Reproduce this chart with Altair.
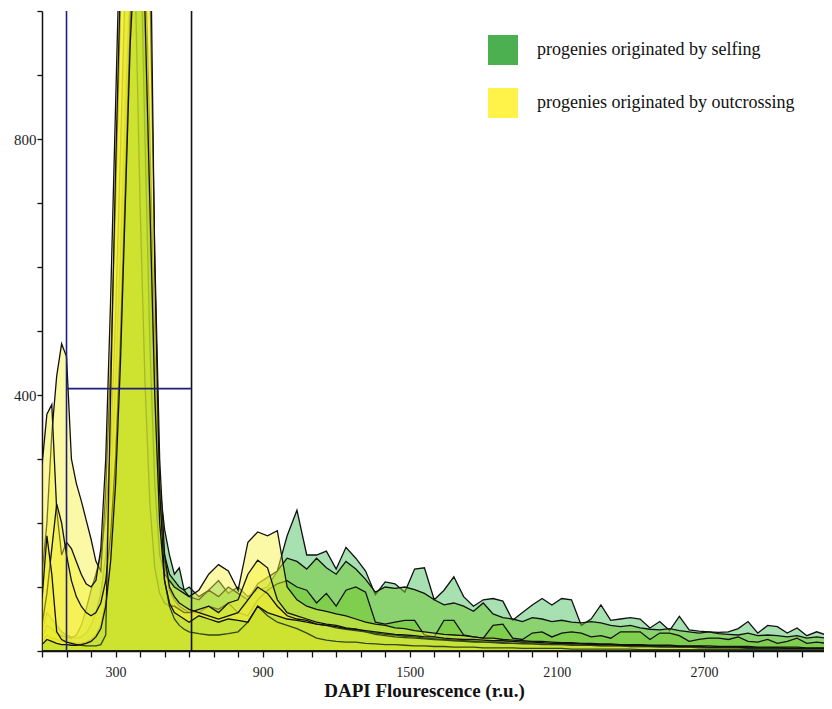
import altair as alt
import pandas as pd

# ---- bins (DAPI fluorescence channel, r.u.) ----
bins_head = list(range(0, 601, 20))      # 0..600 step 20  (31 bins)
bins_tail = list(range(640, 3201, 40))   # 640..3200 step 40 (65 bins)
bins = bins_head + bins_tail

# ---- progenies originated by selfing (green) ----
G1_head = [30, 60, 50, 40, 30, 25, 22, 20, 22, 28, 40, 60, 90, 150, 260, 420, 620, 850, 1050, 1150,
           1100, 900, 650, 420, 260, 190, 150, 120, 130, 95, 100]
G1_tail = [85, 95, 110, 90, 100, 85, 95, 100, 125, 180, 220, 150, 150, 156, 128, 162, 145, 125, 88, 108,
           105, 92, 128, 130, 80, 95, 116, 85, 70, 80, 82, 78, 48, 60, 72, 82, 72, 82, 80, 40,
           50, 72, 48, 50, 52, 50, 36, 46, 32, 54, 33, 31, 30, 29, 30, 35, 46, 28, 40, 38,
           28, 36, 24, 30, 25]
G2_head = [20, 40, 35, 28, 24, 22, 20, 25, 40, 65, 95, 120, 150, 210, 320, 520, 780, 1050, 1250, 1300,
           1200, 950, 650, 400, 230, 150, 120, 110, 100, 95, 85]
G2_tail = [80, 95, 85, 100, 90, 80, 105, 115, 125, 145, 140, 128, 145, 130, 120, 140, 128, 112, 92, 100,
           98, 100, 96, 90, 80, 72, 75, 70, 62, 75, 58, 52, 50, 46, 52, 50, 46, 48, 45, 44,
           46, 44, 40, 38, 40, 36, 34, 33, 35, 32, 30, 28, 30, 27, 26, 25, 28, 24, 25, 24,
           22, 24, 20, 22, 20]
G3_head = [15, 25, 20, 18, 15, 14, 13, 12, 12, 14, 18, 25, 40, 80, 160, 300, 500, 750, 1000, 1200,
           1250, 1100, 800, 480, 250, 140, 95, 80, 70, 65, 60]
G3_tail = [60, 70, 65, 75, 60, 55, 80, 95, 105, 110, 100, 95, 75, 90, 70, 95, 100, 92, 45, 42,
           45, 48, 48, 25, 22, 48, 48, 25, 22, 20, 40, 42, 20, 18, 28, 30, 22, 28, 30, 28,
           22, 24, 20, 30, 30, 30, 18, 28, 28, 24, 15, 18, 20, 20, 18, 22, 15, 14, 18, 12,
           15, 20, 12, 14, 12]
G4_head = [10, 18, 15, 12, 10, 10, 9, 9, 10, 12, 15, 22, 35, 70, 140, 260, 450, 700, 950, 1100,
           1150, 1000, 700, 400, 200, 110, 75, 60, 55, 50, 45]
G4_tail = [55, 50, 45, 50, 48, 45, 70, 60, 55, 50, 48, 45, 42, 40, 38, 35, 34, 32, 30, 28,
           26, 25, 24, 22, 22, 20, 19, 18, 18, 17, 16, 16, 15, 14, 14, 13, 12, 12, 12, 11,
           10, 10, 10, 9, 9, 9, 8, 8, 8, 7, 7, 7, 6, 6, 6, 6, 5, 5, 5, 5,
           4, 4, 4, 4, 4]

# ---- progenies originated by outcrossing (yellow) ----
Y1_head = [120, 200, 340, 430, 480, 460, 300, 262, 235, 205, 175, 140, 125, 250, 450, 700, 1000, 1350, 1500, 1400,
           1150, 800, 480, 260, 150, 120, 110, 100, 95, 90, 85]
Y1_tail = [95, 120, 135, 125, 95, 170, 186, 180, 188, 100, 80, 70, 65, 62, 58, 55, 50, 45, 42, 40,
           36, 35, 32, 30, 28, 26, 25, 24, 22, 20, 20, 18, 17, 16, 15, 15, 14, 13, 13, 12,
           12, 11, 11, 10, 10, 10, 9, 9, 9, 8, 8, 8, 8, 7, 7, 7, 7, 6, 6, 6,
           6, 6, 5, 5, 5]
Y2_head = [290, 370, 385, 220, 150, 170, 160, 140, 120, 105, 100, 110, 160, 300, 550, 850, 1150, 1350, 1300, 1050,
           700, 420, 230, 130, 90, 75, 70, 70, 65, 60, 60]
Y2_tail = [65, 70, 60, 75, 80, 120, 142, 130, 80, 60, 55, 50, 45, 42, 40, 36, 34, 30, 28, 26,
           25, 23, 22, 20, 19, 18, 17, 16, 15, 14, 14, 13, 12, 12, 11, 11, 10, 10, 10, 9,
           9, 8, 8, 8, 7, 7, 7, 7, 6, 6, 6, 6, 5, 5, 5, 5, 5, 4, 4, 4,
           4, 4, 3, 3, 3]
Y3_head = [80, 180, 120, 30, 18, 14, 12, 10, 9, 8, 8, 8, 10, 25, 400, 750, 1050, 1400, 1700, 1900,
           1900, 1650, 1200, 600, 250, 110, 70, 50, 40, 34, 30]
Y3_tail = [27, 25, 25, 27, 30, 45, 70, 55, 45, 40, 35, 28, 20, 17, 15, 14, 14, 12, 11, 10,
           10, 9, 8, 8, 7, 7, 6, 6, 6, 5, 5, 5, 5, 4, 4, 4, 4, 4, 3, 3,
           3, 3, 3, 3, 3, 2, 2, 2, 2, 2, 2, 2, 2, 2, 2, 2, 2, 2, 2, 2,
           2, 2, 2, 2, 2]
Y4_head = [40, 90, 160, 230, 200, 150, 110, 85, 70, 60, 55, 60, 75, 110, 180, 300, 480, 720, 980, 1250,
           1450, 1400, 1050, 620, 300, 150, 100, 85, 75, 70, 65]
Y4_tail = [60, 55, 50, 55, 60, 80, 100, 90, 70, 55, 50, 48, 42, 40, 36, 34, 32, 30, 26, 24,
           22, 21, 20, 19, 18, 17, 16, 15, 14, 14, 13, 12, 12, 11, 11, 10, 10, 10, 9, 9,
           9, 8, 8, 8, 7, 7, 7, 6, 6, 6, 6, 5, 5, 5, 5, 5, 4, 4, 4, 4,
           4, 3, 3, 3, 3]

# drawing order (first = bottom)
series_names = ["G1", "G2", "G3", "Y1", "Y2", "Y4", "Y3", "G4"]
series_values = {
    "G1": G1_head + G1_tail, "G2": G2_head + G2_tail,
    "G3": G3_head + G3_tail, "G4": G4_head + G4_tail,
    "Y1": Y1_head + Y1_tail, "Y2": Y2_head + Y2_tail,
    "Y3": Y3_head + Y3_tail, "Y4": Y4_head + Y4_tail,
}
series_fill = {
    "G1": ("#4fc363", 0.50), "G2": ("#74c93a", 0.55), "G3": ("#7acb35", 0.60), "G4": ("#86cf3a", 0.28),
    "Y1": ("#f7f13a", 0.45), "Y2": ("#f5ef30", 0.45), "Y4": ("#f4ee35", 0.45), "Y3": ("#f2ee22", 0.50),
}

# gates
gate_left = 100
gate_right = 610
gate_level = 410

legend_labels = ["progenies originated by selfing", "progenies originated by outcrossing"]
legend_colors = ["#4caf50", "#fff34a"]

x_label_values = [300, 900, 1500, 2100, 2700]
y_label_values = [400, 800]
x_tick_values = list(range(0, 3200, 100))
y_tick_values = list(range(0, 1001, 100))

rows = []
for name in series_names:
    for xv, cv in zip(bins, series_values[name]):
        rows.append({"series": name, "x": xv, "count": cv})
df = pd.DataFrame(rows)

xscale = alt.Scale(domain=[0, 3190], nice=False, zero=False)
yscale = alt.Scale(domain=[0, 1000], nice=False)

x_axis = alt.Axis(
    values=x_tick_values,
    labelExpr="indexof(" + str(x_label_values) + ", datum.value) >= 0 ? datum.label : ''",
    format="d", title="DAPI Flourescence (r.u.)", titleFontSize=19, titleFontWeight="bold",
    titleColor="#111", titleX=382, titleY=45, titleBaseline="alphabetic",
    tickSize=6, labelPadding=8, labelFontSize=14,
    labelOverlap=False, labelFlush=False, domainWidth=1.5, tickWidth=1.3,
)
y_axis = alt.Axis(
    values=y_tick_values,
    labelExpr="indexof(" + str(y_label_values) + ", datum.value) >= 0 ? datum.label : ''",
    format="d", title=None, tickSize=5, labelPadding=1, labelFontSize=15,
    labelOverlap=False, labelFlush=False, domainWidth=1.5, tickWidth=1.3,
)

X = alt.X("x:Q", scale=xscale, axis=x_axis)
Y = alt.Y("count:Q", scale=yscale, axis=y_axis)

layers = []
for name in series_names:
    col, op = series_fill[name]
    layers.append(
        alt.Chart(df)
        .transform_filter(alt.datum.series == name)
        .mark_area(color=col, fillOpacity=op, stroke="#111111", strokeWidth=1.3, clip=True)
        .encode(x=X, y=Y)
    )

vgate_df = pd.DataFrame({"x": [gate_left, gate_right], "count": [0, 0], "y1": [1000, 1000],
                         "c": ["#1f1f7a", "#111111"]})
vgate = alt.Chart(vgate_df).mark_rule(strokeWidth=1.6, clip=True).encode(
    x=X, y=Y, y2="y1:Q", color=alt.Color("c:N", scale=None))
hgate_df = pd.DataFrame({"x": [gate_left], "x2": [gate_right], "count": [gate_level]})
hgate = alt.Chart(hgate_df).mark_rule(strokeWidth=1.6, color="#1f1f7a").encode(
    x=X, x2="x2:Q", y=Y)

leg_df = pd.DataFrame({"group": legend_labels})
legend_layer = alt.Chart(leg_df).mark_square(opacity=0).encode(
    x=alt.value(5), y=alt.value(5),
    fill=alt.Fill("group:N", scale=alt.Scale(domain=legend_labels, range=legend_colors),
                  legend=alt.Legend(orient="none", legendX=446, legendY=24, title=None,
                                    symbolType="square", symbolSize=900, symbolOpacity=1,
                                    symbolStrokeWidth=0, labelFont="Liberation Serif",
                                    labelFontSize=18, labelColor="#111", labelLimit=0,
                                    rowPadding=23, labelOffset=19)))

chart = alt.layer(*layers, vgate, hgate, legend_layer).properties(
    width=782, height=640,
    autosize=alt.AutoSizeParams(type="none"),
    padding={"left": 34, "top": 3, "right": 0, "bottom": 50},
    background="white",
).configure_view(stroke=None).configure_axis(
    domainColor="#111", tickColor="#111", labelColor="#222",
    labelFont="Liberation Serif", titleFont="Liberation Serif", grid=False,
)

chart.save("out.html", embed_options={"renderer": "svg", "actions": False})
